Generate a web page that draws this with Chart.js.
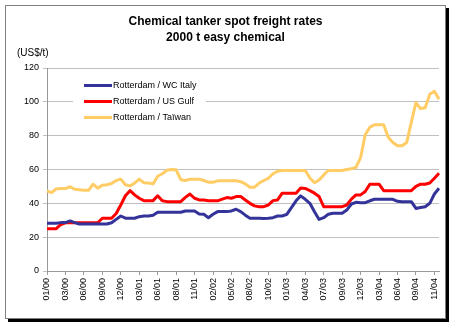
<!DOCTYPE html>
<html>
<head>
<meta charset="utf-8">
<title>Chemical tanker spot freight rates</title>
<script src="https://cdn.jsdelivr.net/npm/chart.js@4/dist/chart.umd.min.js"></script>
<style>
    body { margin: 0; background: #fff; }
    canvas { display: block; }
</style>
</head>
<body>
<canvas id="freightChart" width="454" height="326"></canvas>
<script>
// axis labels, one every 4 points (about 3 weeks apart)
const tickLabels = ["01/00", "03/00", "06/00", "09/00", "12/00", "03/01", "06/01", "08/01", "11/01", "02/02", "05/02",
    "08/02", "10/02", "01/03", "04/03", "07/03", "09/03", "12/03", "03/04", "06/04", "09/04", "11/04"];
const pointsPerTick = 4;

// US$/t
const wcItaly = [28.2, 28.2, 28.2, 28.6, 28.6, 29.6, 28.6, 27.8, 27.8, 27.8,
    27.8, 27.8, 27.8, 27.8, 28.5, 30.5, 32.5, 31.2, 31.2, 31.2,
    32.1, 32.5, 32.5, 33.0, 34.7, 34.7, 34.7, 34.7, 34.7, 34.7,
    35.5, 35.5, 35.5, 33.7, 33.5, 31.5, 33.5, 35.1, 35.1, 35.1,
    35.5, 36.5, 35.1, 33.0, 31.2, 31.2, 31.2, 31.0, 31.2, 31.5,
    32.5, 32.5, 33.5, 37.5, 41.5, 44.4, 42.4, 40.0, 35.0, 30.5,
    31.5, 33.5, 34.1, 34.1, 34.1, 36.0, 39.6, 40.6, 40.4, 40.4,
    41.5, 42.4, 42.4, 42.4, 42.4, 42.4, 41.2, 41.0, 41.0, 41.0,
    37.0, 37.5, 38.0, 40.0, 45.5, 48.9];
const usGulf = [25, 25, 25, 27.5, 28.5, 28.5, 28.5, 28.5, 28.5, 28.5,
    28.5, 28.5, 31.2, 31.2, 31.2, 34, 39, 44.5, 47.5, 45,
    43, 41.6, 41.6, 41.6, 44.5, 41.5, 41, 41, 41, 41,
    43.5, 45.5, 43, 42, 42, 41.5, 41.5, 41.5, 42.5, 43.4,
    43, 44, 44, 42, 40, 38.5, 38, 38, 39, 41.6,
    42, 46, 46, 46, 46, 49, 48.8, 47.5, 46, 44,
    38, 38, 38, 38, 38, 39, 42.5, 45, 45, 47,
    51.3, 51.3, 51.3, 47.5, 47.5, 47.5, 47.5, 47.5, 47.5, 47.5,
    50, 51.3, 51.3, 52, 54.8, 57.8];
const taiwan = [47.3, 46.3, 48.5, 48.7, 48.7, 49.8, 48.3, 48.0, 47.7, 47.7,
    51.3, 49.0, 50.7, 51.0, 51.7, 53.5, 54.3, 51.0, 50.3, 52.0,
    54.3, 52.2, 52.0, 51.5, 56.0, 57.5, 59.5, 60.0, 59.8, 54.0,
    53.5, 54.3, 54.3, 54.3, 53.5, 52.5, 52.5, 53.3, 53.3, 53.3,
    53.3, 53.3, 52.8, 51.5, 49.5, 49.5, 52.0, 53.5, 54.8, 57.5,
    59.0, 59.4, 59.4, 59.4, 59.4, 59.4, 59.4, 55.0, 52.2, 53.8,
    56.8, 59.4, 59.4, 59.4, 59.4, 60.0, 60.5, 61.2, 67.0, 80.5,
    85.0, 86.4, 86.4, 86.4, 79.0, 76.0, 74.0, 74.0, 76.0, 88.0,
    99.5, 96.0, 96.5, 104.5, 106.2, 101.6];

const yTicks = [0, 20, 40, 60, 80, 100, 120];

document.addEventListener("DOMContentLoaded", function () {
    const font = "'Liberation Sans', Arial, sans-serif";

    // category per data point, only every 4th one carries a date
    const labels = wcItaly.map((v, i) => i % pointsPerTick === 0 ? (tickLabels[i / pointsPerTick] || "") : "");

    // white page, grey frame with a black drop shadow, titles
    const frame = {
        id: "frame",
        beforeDraw(chart) {
            const c = chart.ctx;
            c.save();
            c.fillStyle = "#fff";
            c.fillRect(0, 0, chart.width, chart.height);
            c.fillStyle = "#000";
            c.fillRect(446, 8, 3, 314);
            c.fillRect(8, 319, 441, 3);
            c.strokeStyle = "#808080";
            c.lineWidth = 1;
            c.strokeRect(5.5, 5.5, 440, 313);

            c.fillStyle = "#000";
            c.textAlign = "center";
            c.textBaseline = "middle";
            c.font = "bold 12px " + font;
            c.fillText("Chemical tanker spot freight rates", 225.5, 22);
            c.fillText("2000 t easy chemical", 225.5, 37.5);
            c.textAlign = "left";
            c.font = "10px " + font;
            c.fillText("(US$/t)", 17, 53);
            c.restore();
        }
    };

    // legend sits inside the plot, on a white box
    const legendBox = {
        id: "legendBox",
        afterDatasetsDraw(chart) {
            const c = chart.ctx;
            const a = chart.chartArea;
            c.save();
            c.fillStyle = "#fff";
            c.fillRect(a.left + 26, a.top + 8, 133, 51);
            c.font = "9px " + font;
            c.textBaseline = "middle";
            chart.data.datasets.forEach((ds, i) => {
                const y = a.top + 17.5 + i * 16;
                c.strokeStyle = ds.borderColor;
                c.lineWidth = 3;
                c.beginPath();
                c.moveTo(a.left + 37, y);
                c.lineTo(a.left + 65, y);
                c.stroke();
                c.fillStyle = "#000";
                c.fillText(ds.label, a.left + 66, y);
            });
            c.restore();
        }
    };

    const line = (label, data, color) => ({
        label: label,
        data: data,
        borderColor: color,
        backgroundColor: color,
        borderWidth: 3,
        pointRadius: 0,
        tension: 0,
        borderJoinStyle: "round",
        fill: false
    });

    var ctx = document.getElementById("freightChart").getContext("2d");
    new Chart(ctx, {
        type: "line",
        data: {
            labels: labels,
            datasets: [
                line("Rotterdam / WC Italy", wcItaly, "#333399"),
                line("Rotterdam / US Gulf", usGulf, "#ff0000"),
                line("Rotterdam / Taïwan", taiwan, "#ffcc66")
            ]
        },
        options: {
            responsive: false,
            animation: false,
            layout: { padding: { left: 0, right: 15, top: 68, bottom: 0 } },
            plugins: {
                legend: { display: false },
                title: { display: false },
                tooltip: { enabled: false }
            },
            scales: {
                x: {
                    offset: false,
                    afterFit: s => { s.height = 55; },
                    border: { color: "#999", width: 1 },
                    grid: {
                        drawOnChartArea: false,
                        tickLength: 4,
                        color: c => c.index % pointsPerTick === 0 ? "#999" : "rgba(0,0,0,0)"
                    },
                    ticks: {
                        autoSkip: false,
                        minRotation: 90,
                        maxRotation: 90,
                        padding: 3,
                        color: "#000",
                        font: { family: font, size: 9 }
                    }
                },
                y: {
                    min: 0,
                    max: 120,
                    afterFit: s => { s.width = 47; },
                    afterBuildTicks: s => { s.ticks = yTicks.map(v => ({ value: v })); },
                    border: { color: "#999", width: 1 },
                    grid: { color: "#c0c0c0", tickLength: 4 },
                    ticks: {
                        padding: 4,
                        color: "#000",
                        font: { family: font, size: 9 }
                    }
                }
            }
        },
        plugins: [frame, legendBox]
    });
});
</script>
</body>
</html>
